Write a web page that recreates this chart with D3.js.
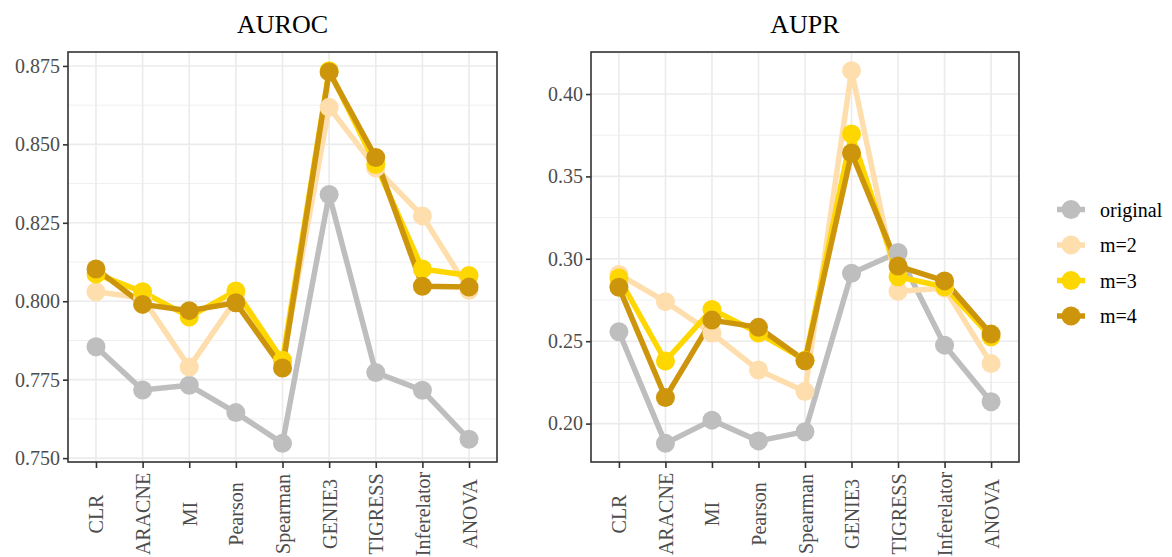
<!DOCTYPE html>
<html>
<head>
<meta charset="utf-8">
<script src="https://cdn.jsdelivr.net/npm/d3@7"></script>
<style>
  html, body { margin: 0; padding: 0; background: #fff; }
  svg { display: block; }
  svg text { font-family: "Liberation Serif", "Times New Roman", serif !important; }
</style>
</head>
<body>
<svg id="chart" width="1172" height="557"></svg>
<script>
// Network inference methods on the x axis
const methods = ["CLR", "ARACNE", "MI", "Pearson", "Spearman", "GENIE3", "TIGRESS", "Inferelator", "ANOVA"];

// Series names and colours
const seriesNames = ["original", "m=2", "m=3", "m=4"];
const seriesColors = ["#BEBEBE", "#FFDEAD", "#FFD700", "#CD950C"];

// AUROC per method
const aurocOriginal = [0.7855, 0.7717, 0.7732, 0.7645, 0.7547, 0.8340, 0.7773, 0.7716, 0.7560];
const aurocM2       = [0.8030, 0.8010, 0.7790, 0.8005, 0.7805, 0.8618, 0.8425, 0.8272, 0.8035];
const aurocM3       = [0.8087, 0.8030, 0.7950, 0.8033, 0.7812, 0.8735, 0.8436, 0.8103, 0.8082];
const aurocM4       = [0.8103, 0.7990, 0.7970, 0.7995, 0.7787, 0.8731, 0.8458, 0.8048, 0.8045];

// AUPR per method
const auprOriginal = [0.2557, 0.1880, 0.2021, 0.1895, 0.1951, 0.2912, 0.3038, 0.2476, 0.2132];
const auprM2       = [0.2905, 0.2740, 0.2548, 0.2325, 0.2195, 0.4142, 0.2803, 0.2822, 0.2364];
const auprM3       = [0.2884, 0.2380, 0.2693, 0.2550, 0.2385, 0.3757, 0.2891, 0.2830, 0.2527];
const auprM4       = [0.2827, 0.2158, 0.2628, 0.2584, 0.2381, 0.3642, 0.2956, 0.2866, 0.2543];

// Axis tick values
const aurocTicks = [0.750, 0.775, 0.800, 0.825, 0.850, 0.875];
const auprTicks  = [0.20, 0.25, 0.30, 0.35, 0.40];

const FONT = "'Liberation Serif', 'Times New Roman', serif";
const svg = d3.select("#chart").attr("font-family", FONT);

const panels = [
  { title: "AUROC", left: 68, right: 497, series: [aurocOriginal, aurocM2, aurocM3, aurocM4],
    ticks: aurocTicks, fmt: d3.format(".3f") },
  { title: "AUPR", left: 591, right: 1019, series: [auprOriginal, auprM2, auprM3, auprM4],
    ticks: auprTicks, fmt: d3.format(".2f") }
];
const panelTop = 52, panelBottom = 462;
const lineW = 5.5, ptR = 9.5;

panels.forEach(p => {
  const g = svg.append("g");
  const all = p.series.flat();
  const lo = d3.min(all), hi = d3.max(all), pad = (hi - lo) * 0.05;
  const y = d3.scaleLinear().domain([lo - pad, hi + pad]).range([panelBottom, panelTop]);
  const x = d3.scalePoint().domain(methods).range([p.left, p.right]).padding(0.6);

  // minor gridlines halfway between major ticks
  const step = p.ticks[1] - p.ticks[0];
  const minor = [];
  for (let v = p.ticks[0] - step / 2; v <= hi + pad; v += step) {
    if (v >= lo - pad) minor.push(v);
  }
  g.selectAll(".minor").data(minor).join("line")
    .attr("x1", p.left).attr("x2", p.right)
    .attr("y1", d => y(d)).attr("y2", d => y(d))
    .attr("stroke", "#EBEBEB").attr("stroke-width", 0.8);
  g.selectAll(".majorY").data(p.ticks).join("line")
    .attr("x1", p.left).attr("x2", p.right)
    .attr("y1", d => y(d)).attr("y2", d => y(d))
    .attr("stroke", "#EBEBEB").attr("stroke-width", 1.6);
  g.selectAll(".majorX").data(methods).join("line")
    .attr("x1", d => x(d)).attr("x2", d => x(d))
    .attr("y1", panelTop).attr("y2", panelBottom)
    .attr("stroke", "#EBEBEB").attr("stroke-width", 1.6);

  // lines first, then points on top
  const line = d3.line().x((d, i) => x(methods[i])).y(d => y(d));
  p.series.forEach((vals, si) => {
    g.append("path").datum(vals)
      .attr("d", line).attr("fill", "none")
      .attr("stroke", seriesColors[si]).attr("stroke-width", lineW)
      .attr("stroke-linejoin", "round");
  });
  p.series.forEach((vals, si) => {
    g.selectAll(null).data(vals).join("circle")
      .attr("cx", (d, i) => x(methods[i])).attr("cy", d => y(d))
      .attr("r", ptR).attr("fill", seriesColors[si]);
  });

  // panel border
  g.append("rect").attr("x", p.left).attr("y", panelTop)
    .attr("width", p.right - p.left).attr("height", panelBottom - panelTop)
    .attr("fill", "none").attr("stroke", "#333333").attr("stroke-width", 1.6);

  // y axis
  const yAxis = g.append("g").attr("transform", `translate(${p.left},0)`)
    .call(d3.axisLeft(y).tickValues(p.ticks).tickFormat(p.fmt).tickSize(5).tickPadding(3))
    .attr("font-family", FONT).attr("font-size", 20);
  yAxis.select(".domain").remove();
  yAxis.selectAll("line").attr("stroke", "#333333").attr("stroke-width", 1.6);
  yAxis.selectAll("text").attr("fill", "#4D4D4D");

  // x axis with vertical labels
  const xAxis = g.append("g").attr("transform", `translate(0,${panelBottom})`)
    .call(d3.axisBottom(x).tickSize(6))
    .attr("font-family", FONT).attr("font-size", 20);
  xAxis.select(".domain").remove();
  xAxis.selectAll("line").attr("stroke", "#333333").attr("stroke-width", 1.6);
  xAxis.selectAll("text")
    .attr("fill", "#4D4D4D")
    .attr("text-anchor", "middle").attr("dy", null)
    .attr("transform", "translate(0,52) rotate(-90)")
    .attr("x", 0).attr("y", 0)
    .attr("dominant-baseline", "central");

  // panel title
  g.append("text").attr("x", (p.left + p.right) / 2).attr("y", 33)
    .attr("text-anchor", "middle").attr("font-size", 26).attr("fill", "#000")
    .text(p.title);
});

// legend
const legend = svg.append("g").attr("font-family", FONT);
seriesNames.forEach((name, i) => {
  const cy = 209.5 + i * 35.5;
  legend.append("line").attr("x1", 1057).attr("x2", 1085).attr("y1", cy).attr("y2", cy)
    .attr("stroke", seriesColors[i]).attr("stroke-width", lineW);
  legend.append("circle").attr("cx", 1071).attr("cy", cy).attr("r", ptR).attr("fill", seriesColors[i]);
  legend.append("text").attr("x", 1100).attr("y", cy).attr("dominant-baseline", "central")
    .attr("font-size", 20).attr("fill", "#000").text(name);
});
</script>
</body>
</html>
